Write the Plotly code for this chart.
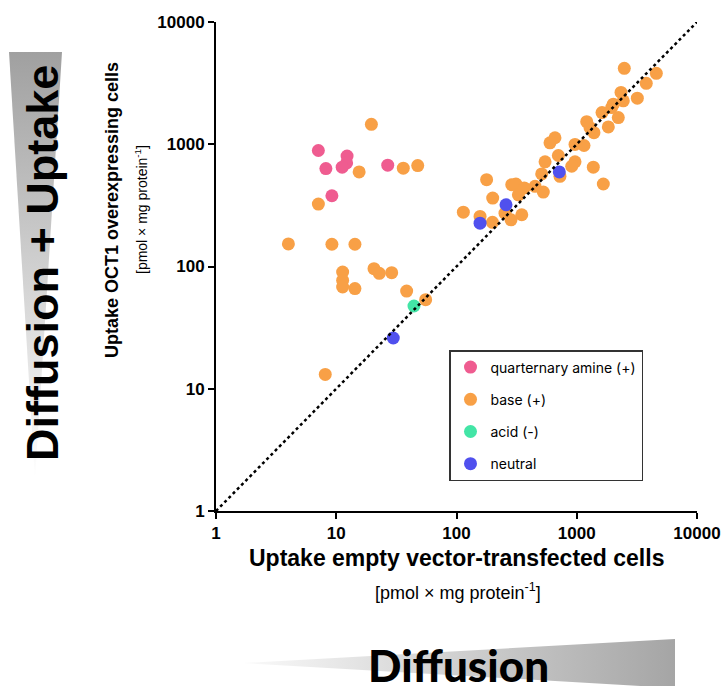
import plotly.graph_objects as go

# ---- data (x: empty vector cells, y: OCT1 overexpressing cells) ----
quat_x = [7.1, 12.3, 12.2, 8.2, 11.2, 26.8, 9.2]
quat_y = [889, 800, 704, 632, 649, 674, 379]

base_x = [19.6, 15.5, 36.1, 47.6, 7.1, 4.0, 9.2, 14.3, 11.3, 11.3, 11.3, 14.3, 20.6, 22.8, 28.9,
          38.5, 55.4, 8.1,
          2485, 4590, 3785, 2334, 3190, 2438, 2014, 1950, 1622, 2216, 1830, 1210, 1289, 1390,
          659, 599, 967, 1149, 703, 545, 967, 908, 1373, 511, 725, 1663, 178, 288, 312, 527,
          366, 327, 200, 450, 253, 349, 284, 114, 157, 199]
base_y = [1455, 594, 637, 669, 324, 153, 152, 152, 90, 77, 68, 66, 96, 88, 89,
          63, 53.5, 13.1,
          4180, 3802, 3148, 2655, 2383, 2266, 2127, 1997, 1816, 1652, 1386, 1531, 1367, 1244,
          1130, 1028, 996, 977, 809, 718, 718, 661, 649, 572, 547, 473, 513, 467, 472, 406,
          439, 386, 363, 453, 273, 265, 241, 278, 257, 230]

acid_x = [44.3]
acid_y = [47.5]

neutral_x = [157, 258, 716, 29.8]
neutral_y = [226, 320, 594, 26]

identity = [1, 10000]
tick_vals = [1, 10, 100, 1000, 10000]
tick_text = ["1", "10", "100", "1000", "10000"]

W, H = 728, 686
AX_L, AX_R = 216, 697
AX_T, AX_B = 22, 511

def px(x):
    return x / W

def py(y):
    return 1 - y / H

fig = go.Figure()

# decorative gradient wedges on a full-figure overlay axis (pixel coordinates)
fig.add_trace(go.Scatter(
    x=[9, 62, 35, 9], y=[H - 52, H - 52, H - 480, H - 52],
    mode="lines", line=dict(width=0), fill="toself",
    fillgradient=dict(type="vertical",
                      colorscale=[[0, "rgba(255,255,255,1)"], [1, "rgba(160,160,160,1)"]]),
    xaxis="x2", yaxis="y2", showlegend=False, hoverinfo="skip"))
fig.add_trace(go.Scatter(
    x=[243, 675, 675, 243], y=[H - 663, H - 639, H - 688, H - 663],
    mode="lines", line=dict(width=0), fill="toself",
    fillgradient=dict(type="horizontal",
                      colorscale=[[0, "rgba(250,250,250,1)"], [1, "rgba(165,165,165,1)"]]),
    xaxis="x2", yaxis="y2", showlegend=False, hoverinfo="skip"))

msize = 13
fig.add_trace(go.Scatter(x=base_x, y=base_y, mode="markers", name="base (+)",
                         marker=dict(color="#F8A046", size=msize), legendrank=2, legendgroup="b"))
fig.add_trace(go.Scatter(x=quat_x, y=quat_y, mode="markers", name="quarternary amine (+)",
                         marker=dict(color="#EF5C90", size=msize), legendrank=1, legendgroup="q"))
fig.add_trace(go.Scatter(x=acid_x, y=acid_y, mode="markers", name="acid (-)",
                         marker=dict(color="#43E5A6", size=msize), legendrank=3, legendgroup="a"))
fig.add_trace(go.Scatter(x=neutral_x, y=neutral_y, mode="markers", name="neutral",
                         marker=dict(color="#5050EE", size=msize), legendrank=4, legendgroup="n"))
fig.add_trace(go.Scatter(x=identity, y=identity, mode="lines",
                         line=dict(color="black", width=2.5, dash="3px,3px"),
                         showlegend=False, hoverinfo="skip"))

axis_common = dict(
    type="log", range=[0, 4], showgrid=False, zeroline=False, automargin=False,
    showline=True, linecolor="black", linewidth=2,
    ticks="outside", ticklen=6, tickwidth=2, tickcolor="black",
    tickvals=tick_vals, ticktext=tick_text,
    tickfont=dict(family="Liberation Sans, Arial", size=17, color="black", weight="bold"),
)

fig.update_layout(
    width=W, height=H,
    margin=dict(l=0, r=0, t=0, b=0, pad=0, autoexpand=False),
    paper_bgcolor="white", plot_bgcolor="rgba(0,0,0,0)",
    xaxis=dict(domain=[px(AX_L), px(AX_R)], anchor="y", **axis_common),
    yaxis=dict(domain=[py(AX_B), py(AX_T)], anchor="x", **axis_common),
    xaxis2=dict(domain=[0, 1], range=[0, W], visible=False, anchor="y2",
                fixedrange=True, automargin=False),
    yaxis2=dict(domain=[0, 1], range=[0, H], visible=False, anchor="x2",
                fixedrange=True, automargin=False),
    showlegend=True,
    legend=dict(
        x=px(449), y=py(350), xanchor="left", yanchor="top",
        bordercolor="#333", borderwidth=1.5, bgcolor="white",
        font=dict(family="Inter, Noto Sans", size=14, color="black"),
        tracegroupgap=11, itemsizing="trace",
    ),
    font=dict(family="Liberation Sans, Arial", color="black"),
)

annos = [
    dict(text="Uptake OCT1 overexpressing cells", x=px(112), y=py(210), textangle=-90,
         font=dict(size=18, weight="bold", family="Liberation Sans, Arial")),
    dict(text="[pmol × mg protein<sup>-1</sup>]", x=px(141), y=py(210), textangle=-90,
         font=dict(size=14, family="Liberation Sans, Arial")),
    dict(text="Uptake empty vector-transfected cells", x=px(456), y=py(558),
         font=dict(size=23, weight="bold", family="Liberation Sans, Arial")),
    dict(text="[pmol × mg protein<sup>-1</sup>]", x=px(458), y=py(591),
         font=dict(size=18, family="Liberation Sans, Arial")),
    dict(text="Diffusion + Uptake", x=px(42), y=py(263), textangle=-90,
         font=dict(size=45, weight="bold", family="Liberation Sans, Arial")),
    dict(text="Diffusion", x=px(458), y=py(665),
         font=dict(size=44, weight=900, family="Lato")),
]
for a in annos:
    a.update(xref="paper", yref="paper", showarrow=False, xanchor="center", yanchor="middle")
    a["font"].setdefault("color", "black")
fig.update_layout(annotations=annos)

fig.write_html(
    "out.html",
    config={"displayModeBar": False},
    post_script="document.body.style.margin='0px';document.body.style.overflow='hidden';",
)
